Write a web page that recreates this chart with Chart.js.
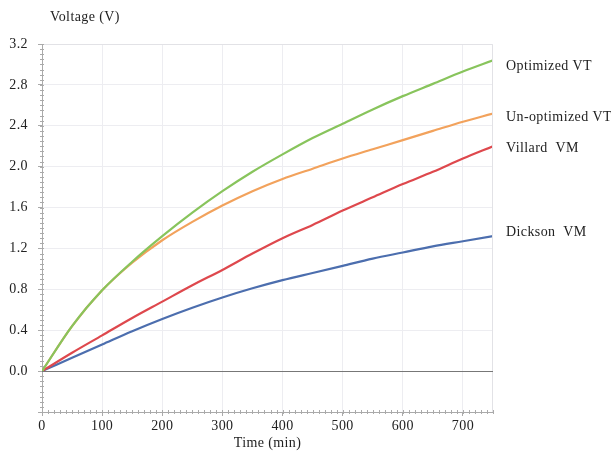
<!DOCTYPE html>
<html>
<head>
<meta charset="utf-8">
<script src="https://cdn.jsdelivr.net/npm/chart.js@4"></script>
<style>
  html, body { margin: 0; padding: 0; background: #fff; }
  #wrap { width: 611px; height: 454px; }
</style>
</head>
<body>
<div id="wrap"><canvas id="c" width="611" height="454"></canvas></div>
<script>
// time in minutes
const times = [0, 50, 100, 150, 200, 250, 300, 350, 400, 450, 500, 550, 600, 650, 700, 750];

const optimizedVT   = [0, 0.44, 0.79, 1.07, 1.32, 1.55, 1.76, 1.95, 2.12, 2.28, 2.42, 2.56, 2.69, 2.81, 2.93, 3.04];
const unoptimizedVT = [0, 0.44, 0.79, 1.06, 1.28, 1.46, 1.62, 1.76, 1.88, 1.98, 2.08, 2.17, 2.26, 2.35, 2.44, 2.52];
const villardVM     = [0, 0.18, 0.35, 0.52, 0.68, 0.84, 0.99, 1.15, 1.30, 1.43, 1.57, 1.70, 1.83, 1.95, 2.08, 2.20];
const dicksonVM     = [0, 0.13, 0.26, 0.39, 0.51, 0.62, 0.72, 0.81, 0.89, 0.96, 1.03, 1.10, 1.16, 1.22, 1.27, 1.32];

const seriesNames  = ['Optimized VT', 'Un-optimized VT', 'Villard  VM', 'Dickson  VM'];
const seriesColors = ['#88c45c', '#f2a25c', '#de484d', '#4c6eae'];
const labelNudge   = [6, 4, 2, -4];

const yTicks = [-0.4, 0.0, 0.4, 0.8, 1.2, 1.6, 2.0, 2.4, 2.8, 3.2];
const xTicks = [0, 100, 200, 300, 400, 500, 600, 700];

const FONT = '"Liberation Serif", "DejaVu Serif", serif';

function pts(vals) {
    return vals.map((v, i) => ({ x: times[i], y: v }));
}

const spacing = {
    id: 'spacing',
    beforeDraw(chart) { chart.ctx.letterSpacing = '0.4px'; }
};

const extras = {
    id: 'extras',
    afterDraw(chart) {
        const { ctx, chartArea, scales } = chart;
        const x = scales.x, y = scales.y;
        ctx.save();
        ctx.lineWidth = 1;
        // plot frame (top and right)
        ctx.strokeStyle = '#e2e2e6';
        ctx.beginPath();
        ctx.moveTo(chartArea.left, chartArea.top + 0.5);
        ctx.lineTo(chartArea.right - 0.5, chartArea.top + 0.5);
        ctx.lineTo(chartArea.right - 0.5, chartArea.bottom);
        ctx.stroke();
        ctx.strokeStyle = '#aaa';
        // minor ticks on y axis
        for (let v = -0.4; v <= 3.2001; v += 0.05) {
            const py = Math.round(y.getPixelForValue(v)) + 0.5;
            ctx.beginPath();
            ctx.moveTo(chartArea.left - 2, py);
            ctx.lineTo(chartArea.left + 2, py);
            ctx.stroke();
        }
        // minor ticks on x axis
        for (let t = 0; t <= 750; t += 10) {
            const px = Math.round(x.getPixelForValue(t)) + 0.5;
            ctx.beginPath();
            ctx.moveTo(px, chartArea.bottom - 2);
            ctx.lineTo(px, chartArea.bottom + 2);
            ctx.stroke();
        }
        // zero line
        ctx.strokeStyle = '#777';
        const zy = Math.round(y.getPixelForValue(0)) + 0.5;
        ctx.beginPath();
        ctx.moveTo(chartArea.left, zy);
        ctx.lineTo(chartArea.right, zy);
        ctx.stroke();

        ctx.fillStyle = '#222';
        ctx.font = '14px ' + FONT;
        ctx.letterSpacing = '0.4px';
        ctx.textBaseline = 'middle';
        ctx.textAlign = 'left';
        // y axis title
        ctx.fillText('Voltage (V)', 50, 17);
        // series labels at right end
        chart.data.datasets.forEach((ds, i) => {
            const last = ds.data[ds.data.length - 1];
            const py = y.getPixelForValue(last.y) + labelNudge[i];
            ctx.fillText(ds.label, chartArea.right + 13, py);
        });
        ctx.restore();
    }
};

new Chart(document.getElementById('c'), {
    type: 'line',
    data: {
        datasets: seriesNames.map((name, i) => ({
            label: name,
            data: pts([optimizedVT, unoptimizedVT, villardVM, dicksonVM][i]),
            borderColor: seriesColors[i],
            borderWidth: 2.2,
            pointRadius: 0,
            cubicInterpolationMode: 'monotone',
            fill: false,
        })),
    },
    options: {
        responsive: false,
        animation: false,
        layout: { padding: { top: 44, right: 118, left: 0, bottom: 0 } },
        plugins: { legend: { display: false }, tooltip: { enabled: false } },
        scales: {
            x: {
                type: 'linear',
                min: 0,
                max: 750,
                afterBuildTicks: s => { s.ticks = xTicks.map(v => ({ value: v })); },
                afterFit: s => { s.height = 42; },
                ticks: { color: '#222', font: { family: FONT, size: 14 }, padding: 2, maxRotation: 0 },
                grid: { color: '#ededf1', tickLength: 4, tickColor: '#aaa' },
                border: { color: '#aaa' },
                title: { display: true, text: 'Time (min)', color: '#222', font: { family: FONT, size: 14 }, padding: { top: 0, bottom: 2 } },
            },
            y: {
                min: -0.4,
                max: 3.2,
                afterBuildTicks: s => { s.ticks = yTicks.map(v => ({ value: v })); },
                afterFit: s => { s.width = 42; },
                ticks: {
                    color: '#222',
                    font: { family: FONT, size: 14 },
                    padding: 10,
                    callback: v => (v < -0.01 ? '' : v.toFixed(1)),
                },
                grid: { color: '#ededf1', tickLength: 4, tickColor: '#aaa' },
                border: { color: '#aaa' },
            },
        },
    },
    plugins: [spacing, extras],
});
</script>
</body>
</html>
